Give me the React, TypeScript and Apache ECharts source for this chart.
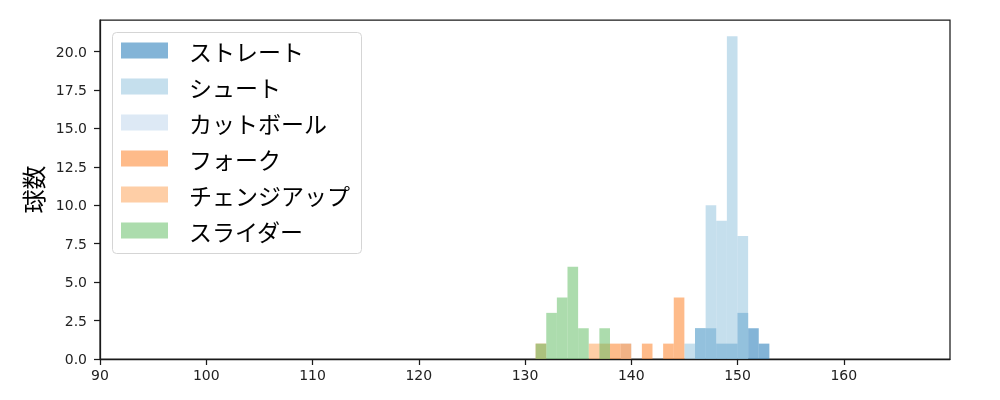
import React, { useEffect, useRef } from "react";
import * as echarts from "echarts";

// Histogram bins (left edge of each 1 km/h bin)
const bins = [131, 132, 133, 134, 135, 136, 137, 138, 139, 140, 141, 142, 143, 144, 145, 146, 147, 148, 149, 150, 151, 152];
const straight = [0, 0, 0, 0, 0, 0, 0, 0, 0, 0, 0, 0, 0, 0, 0, 2, 2, 1, 1, 3, 2, 1];
const shoot = [0, 0, 0, 0, 0, 0, 0, 0, 0, 0, 0, 0, 0, 0, 1, 2, 10, 9, 21, 8, 0, 0];
const cutball = [0, 0, 0, 0, 0, 0, 0, 0, 1, 0, 0, 0, 0, 0, 0, 0, 0, 0, 0, 0, 0, 0];
const fork = [1, 0, 0, 0, 0, 0, 1, 1, 1, 0, 1, 0, 1, 4, 0, 0, 0, 0, 0, 0, 0, 0];
const changeup = [0, 0, 0, 0, 0, 1, 0, 0, 0, 0, 0, 0, 0, 0, 0, 0, 0, 0, 0, 0, 0, 0];
const slider = [1, 3, 4, 6, 2, 0, 2, 0, 0, 0, 0, 0, 0, 0, 0, 0, 0, 0, 0, 0, 0, 0];

const seriesNames = ["ストレート", "シュート", "カットボール", "フォーク", "チェンジアップ", "スライダー"];
const seriesValues = [straight, shoot, cutball, fork, changeup, slider];
const seriesColors = [
  "rgba(49,130,189,0.6)",
  "rgba(158,202,225,0.6)",
  "rgba(198,219,239,0.6)",
  "rgba(253,141,60,0.6)",
  "rgba(253,174,107,0.6)",
  "rgba(116,196,118,0.6)",
];

const xTicks = [90, 100, 110, 120, 130, 140, 150, 160];
const yTicks = [0, 2.5, 5, 7.5, 10, 12.5, 15, 17.5, 20];

const FONT = "'Noto Sans CJK JP', 'DejaVu Sans', sans-serif";
const TICK_FONT = "'DejaVu Sans', sans-serif";
const AXIS_COLOR = "#1a1a1a";

export default function App() {
  const ref = useRef<HTMLDivElement>(null);

  useEffect(() => {
    if (!ref.current) return;
    const chart = echarts.init(ref.current, undefined, { renderer: "svg" });

    const series = seriesNames.map((name, si) => {
      const color = seriesColors[si];
      const data = bins
        .map((b, i) => [b, seriesValues[si][i]])
        .filter((d) => d[1] > 0);
      return {
        name,
        type: "custom",
        itemStyle: { color },
        data,
        clip: true,
        renderItem: (params: any, api: any) => {
          const x0 = api.value(0);
          const h = api.value(1);
          const p0 = api.coord([x0, 0]);
          const p1 = api.coord([x0 + 1, h]);
          return {
            type: "rect",
            shape: {
              x: p0[0],
              y: p1[1],
              width: p1[0] - p0[0],
              height: p0[1] - p1[1],
            },
            style: { fill: color },
          };
        },
      };
    });

    chart.setOption({
      animation: false,
      grid: {
        left: 100,
        right: 50,
        top: 20,
        bottom: 41,
        show: true,
        borderColor: AXIS_COLOR,
        borderWidth: 1.25,
        backgroundColor: "transparent",
      },
      xAxis: {
        type: "value",
        min: 90,
        max: 170,
        interval: 10,
        splitLine: { show: false },
        axisLine: { show: true, lineStyle: { color: AXIS_COLOR, width: 1.25 } },
        axisTick: {
          show: true,
          length: 6,
          customValues: xTicks,
          lineStyle: { color: AXIS_COLOR, width: 1.25 },
        },
        axisLabel: {
          customValues: xTicks,
          color: "#222",
          fontSize: 14,
          fontFamily: TICK_FONT,
          margin: 9,
        },
      },
      yAxis: {
        type: "value",
        min: 0,
        max: 22.05,
        interval: 2.5,
        name: "球数",
        nameLocation: "middle",
        nameRotate: 90,
        nameGap: 54,
        nameTextStyle: { fontSize: 24, fontFamily: FONT, color: "#000" },
        splitLine: { show: false },
        axisLine: { show: true, lineStyle: { color: AXIS_COLOR, width: 1.25 } },
        axisTick: {
          show: true,
          length: 6,
          customValues: yTicks,
          lineStyle: { color: AXIS_COLOR, width: 1.25 },
        },
        axisLabel: {
          customValues: yTicks,
          color: "#222",
          fontSize: 14,
          fontFamily: TICK_FONT,
          margin: 13,
          formatter: (v: number) => v.toFixed(1),
        },
      },
      legend: {
        orient: "vertical",
        left: 121,
        top: 39,
        padding: 0,
        itemWidth: 47,
        itemHeight: 16,
        itemGap: 13,
        icon: "rect",
        selectedMode: false,
        data: seriesNames,
        textStyle: {
          fontSize: 23,
          lineHeight: 23,
          fontFamily: FONT,
          color: "#000",
          padding: [0, 0, 0, 16],
        },
      },
      graphic: [
        {
          type: "rect",
          left: 112,
          top: 32,
          z: -1,
          shape: { width: 249, height: 221, r: 4 },
          style: { fill: "#fff", stroke: "#d5d5d5", lineWidth: 1 },
        },
      ],
      series,
    });

    return () => chart.dispose();
  }, []);

  return (
    <div
      ref={ref}
      style={{ position: "fixed", left: 0, top: 0, width: 1000, height: 400 }}
    />
  );
}
